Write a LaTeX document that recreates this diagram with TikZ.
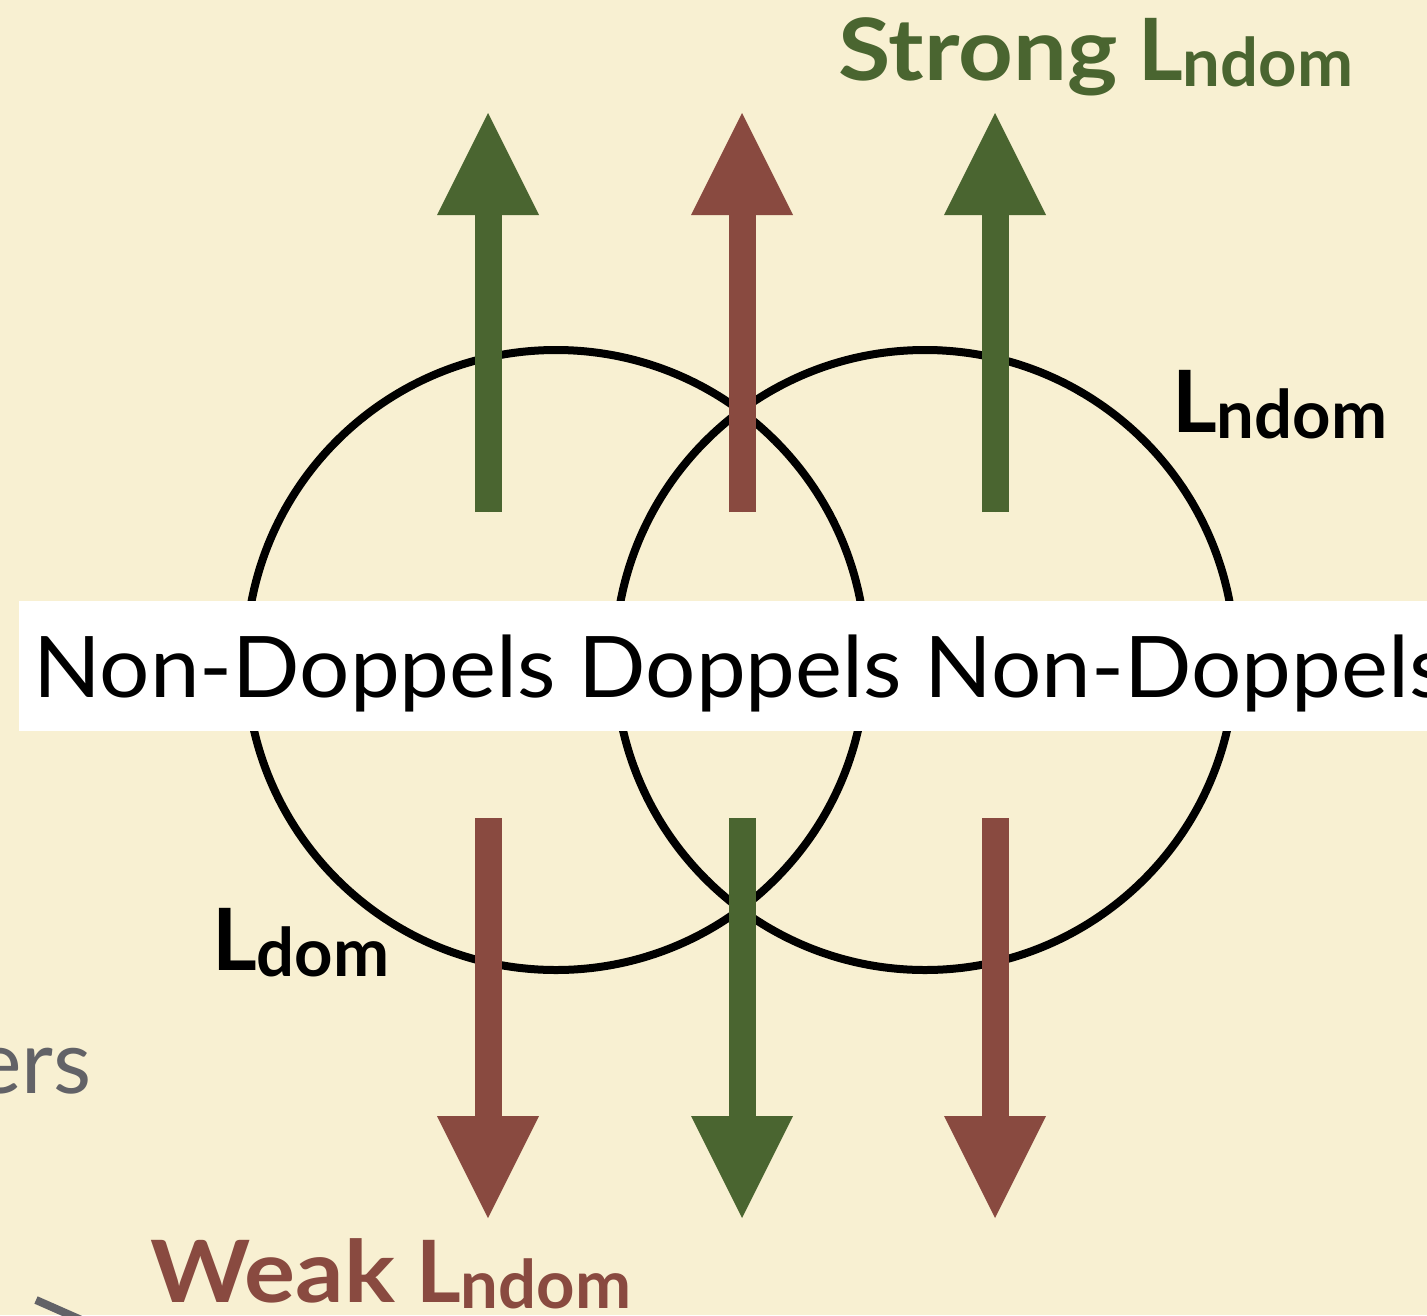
\documentclass[tikz,border=0pt]{standalone}
\usepackage{graphicx}
\usepackage{fontspec}
\setmainfont{Lato}
\usetikzlibrary{arrows.meta,decorations.pathmorphing}

\definecolor{paper}{RGB}{248,240,210}
\definecolor{leafgreen}{RGB}{74,101,48}
\definecolor{brick}{RGB}{137,74,64}
\definecolor{slate}{RGB}{98,98,103}

% a big L followed by a lowered, smaller tail of letters
\newcommand{\Lword}[1]{L\raisebox{-6pt}{\fontsize{67}{67}\selectfont #1}}
% a slightly widened word
\newcommand{\wide}[1]{\scalebox{1.11}[1]{#1}}

\begin{document}
\begin{tikzpicture}[x=1pt,y=-1pt,
  fatarrow/.style={line width=27pt,
    -{Triangle[length=102pt,width=102pt,line width=0pt]}},
  greenarrow/.style={fatarrow,draw=leafgreen,fill=leafgreen},
  brickarrow/.style={fatarrow,draw=brick,fill=brick},
  ring/.style={draw=black,line width=8pt},
  ringedge/.style={draw=black,line width=2.5pt,line join=round,line cap=round,decorate,
    decoration={random steps,segment length=3pt,amplitude=2.6pt}},
  labeltext/.style={anchor=base west,inner sep=0pt,font=\bfseries\fontsize{86}{86}\selectfont},
  bandtext/.style={anchor=base west,inner sep=0pt,font=\fontsize{85}{85}\selectfont}]

\clip (0,0) rectangle (1427,1315);
\fill[paper] (0,0) rectangle (1427,1315);

% the two overlapping sets, drawn with a chalky edge
\coordinate (cl) at (556,660);
\coordinate (cr) at (925,660);
\draw[ring] (cl) circle[radius=310];
\draw[ring] (cr) circle[radius=310];
\draw[ringedge] (cl) circle[radius=310];
\draw[ringedge] (cr) circle[radius=310];

% arrow end points
\coordinate (u1a) at (488,512);  \coordinate (u1b) at (488,113);
\coordinate (u2a) at (742,512);  \coordinate (u2b) at (742,113);
\coordinate (u3a) at (995,512);  \coordinate (u3b) at (995,113);
\coordinate (d1a) at (488,818);  \coordinate (d1b) at (488,1218);
\coordinate (d2a) at (742,818);  \coordinate (d2b) at (742,1218);
\coordinate (d3a) at (995,818);  \coordinate (d3b) at (995,1218);

\draw[greenarrow] (u1a) -- (u1b);
\draw[brickarrow] (u2a) -- (u2b);
\draw[greenarrow] (u3a) -- (u3b);
\draw[brickarrow] (d1a) -- (d1b);
\draw[greenarrow] (d2a) -- (d2b);
\draw[brickarrow] (d3a) -- (d3b);

% white strip with the region names
\fill[white] (19,601) rectangle (1440,731);
\node[bandtext] (regions) at (33,697) {\scalebox{1.045}[1]{Non-Doppels Doppels Non-Doppels}};

% labels
\node[labeltext,text=leafgreen] (strong) at (838,80) {\wide{Strong} \Lword{ndom}};
\node[labeltext,text=black] (lndom) at (1172,432) {\Lword{ndom}};
\node[labeltext,text=black] (ldom) at (212,970) {\Lword{dom}};
\node[labeltext,text=brick] (weak) at (150,1302) {\wide{Weak} \Lword{ndom}};

% leftovers from the neighbouring slide content
\node[anchor=base east,inner sep=0pt,font=\fontsize{88}{88}\selectfont,text=slate] (ers) at (92,1093) {ers};
\coordinate (g1) at (36,1300);
\coordinate (g2) at (95,1326);
\draw[slate,line width=8pt] (g1) -- (g2);
\end{tikzpicture}
\end{document}
